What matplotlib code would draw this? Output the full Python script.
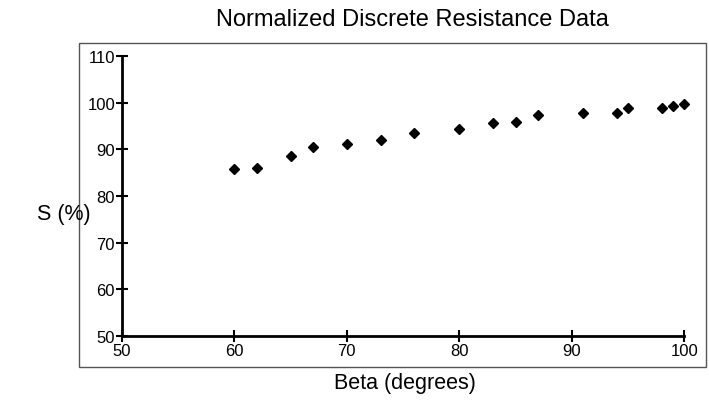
import numpy as np
import matplotlib
matplotlib.use('Agg')
import matplotlib.pyplot as plt
from matplotlib.patches import Rectangle

# data
beta = [60, 62, 65, 67, 70, 73, 76, 80, 83, 85, 87, 91, 94, 95, 98, 99, 100]
s_pct = [85.8, 86.0, 88.5, 90.5, 91.2, 91.9, 93.6, 94.4, 95.6, 95.9, 97.3, 97.8, 97.9, 98.8, 98.9, 99.4, 99.7]
xticks = [50, 60, 70, 80, 90, 100]
yticks = [50, 60, 70, 80, 90, 100, 110]

plt.rcParams['font.family'] = ['Liberation Sans', 'DejaVu Sans']

fig = plt.figure(figsize=(7.09, 4.02), dpi=100)
ax = fig.add_axes([0.172, 0.162, 0.793, 0.696])

# outer frame round the plot
fig.patches.append(Rectangle((79/709, 1-368/402), (706-79)/709, (368-44)/402,
                             transform=fig.transFigure, fill=False,
                             edgecolor='#555555', linewidth=1.0))

ax.plot(beta, s_pct, 'D', color='black', markersize=5.5, clip_on=False)

ax.set_xlim(50, 100)
ax.set_ylim(50, 110)
ax.set_xticks(xticks)
ax.set_yticks(yticks)
for sp in ['top', 'right']:
    ax.spines[sp].set_visible(False)
for sp in ['left', 'bottom']:
    ax.spines[sp].set_linewidth(2)
ax.tick_params(direction='inout', length=8, width=1.5, labelsize=12, pad=1)

fig.text(412/709, 1-20/402, 'Normalized Discrete Resistance Data', ha='center', va='center', fontsize=17)
fig.text(64/709, 1-215/402, 'S (%)', ha='center', va='center', fontsize=15.5)
fig.text(405/709, 1-384/402, 'Beta (degrees)', ha='center', va='center', fontsize=15.5)

plt.savefig('out.png', dpi=100)
